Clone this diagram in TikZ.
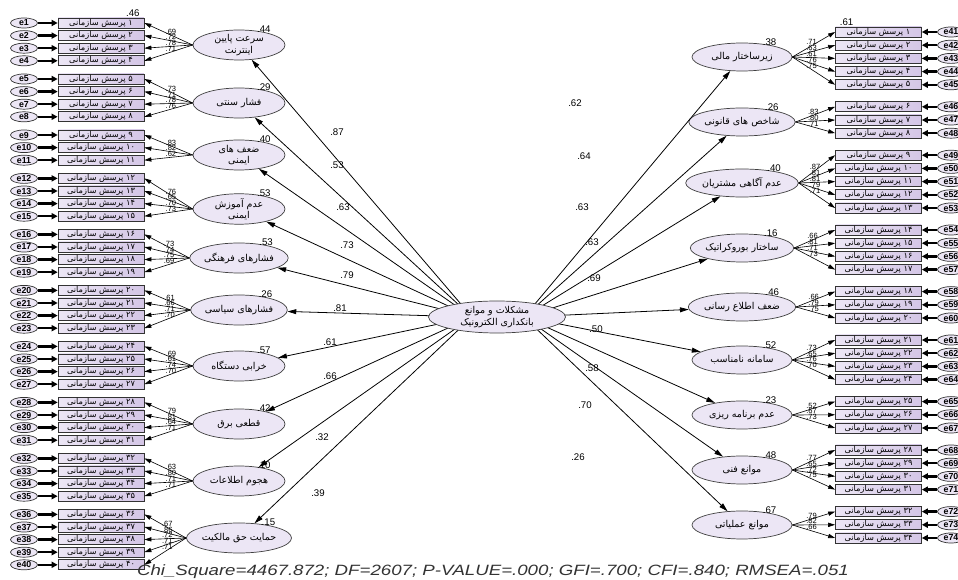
\documentclass[tikz,border=0pt]{standalone}
\usepackage{fontspec}
\setmainfont{Liberation Sans}
\newfontfamily\arabicfont[Script=Arabic]{DejaVu Sans}
\TeXXeTstate=1
\usetikzlibrary{arrows.meta,shapes.geometric}
\definecolor{lav}{RGB}{212,198,230}
\definecolor{lavlight}{RGB}{236,230,245}
\newcommand\fadig[1]{\ifcase#1 ۰\or ۱\or ۲\or ۳\or ۴\or ۵\or ۶\or ۷\or ۸\or ۹\fi}
\begin{document}
\begin{tikzpicture}[x=0.02cm,y=-0.02cm,
    lat/.style={ellipse,draw=black!75,fill=lavlight,inner sep=0pt,align=center,
      minimum width=1.84cm,minimum height=0.6cm,font=\arabicfont\fontsize{5.4}{6.4}\selectfont},
    rlat/.style={lat,minimum width=2cm,minimum height=0.56cm},
    obs/.style={rectangle,draw=black!80,left color=lavlight,right color=lav,inner sep=0pt,
      minimum width=1.72cm,minimum height=0.2cm,font=\arabicfont\fontsize{4.7}{4.8}\selectfont},
    err/.style={ellipse,draw=black!80,fill=lavlight,inner sep=0pt,
      minimum width=0.54cm,minimum height=0.2cm,font=\fontsize{5}{5}\selectfont\bfseries},
    errarr/.style={-{Triangle[length=3.5pt,width=3.5pt]},line width=1.3pt},
    ldarr/.style={-{Triangle[length=4pt,width=2.4pt]},line width=0.35pt},
    patharr/.style={-{Triangle[length=5pt,width=2.8pt]},line width=0.45pt},
    coef/.style={font=\fontsize{5.5}{6}\selectfont,inner sep=0.5pt},
    ldlab/.style={font=\fontsize{4.3}{4.5}\selectfont,inner sep=0.3pt}]
  \useasboundingbox (0,0) rectangle (958,580);
  \clip (0,0) rectangle (958,580);
  \coordinate (cl) at (472,317);
  \coordinate (cr) at (524,317);
  % left side
  \foreach \g/\fy/\first/\txt/\var/\loads in {
      1/45/1/{\beginR سرعت پایین\endR\\\beginR اینترنت\endR}/.44/{.69,.72,.78,.71},
      2/103/5/{\beginR فشار سنتی\endR}/.29/{.73,.71,.78,.76},
      3/155/9/{\beginR ضعف های\endR\\\beginR ایمنی\endR}/.40/{.83,.82,.62},
      4/209/12/{\beginR عدم آموزش\endR\\\beginR ایمنی\endR}/.53/{.76,.65,.70,.73},
      5/258/16/{\beginR فشارهای فرهنگی\endR}/.53/{.73,.74,.75,.69},
      6/310/20/{\beginR فشارهای سیاسی\endR}/.26/{.61,.66,.71,.70},
      7/366/24/{\beginR خرابی دستگاه\endR}/.57/{.69,.61,.74,.70},
      8/424/28/{\beginR قطعی برق\endR}/.42/{.79,.81,.64,.71},
      9/481/32/{\beginR هجوم اطلاعات\endR}/.10/{.63,.80,.71,.71},
      10/538/36/{\beginR حمایت حق مالکیت\endR}/.15/{.67,.86,.72,.71,.71}}{
    \node[lat] (f\g) at (239,\fy) {\txt};
    \node[coef,anchor=south east] (vl\g) at (f\g.north east) {\var};
    \foreach \l [count=\k] in \loads {
      \pgfmathtruncatemacro\i{\first+\k-1}
      \pgfmathsetmacro\ry{23+(\i-1)*12.6+(\g-1)*5.6}
      \pgfmathtruncatemacro\tens{\i/10}
      \pgfmathtruncatemacro\units{\i-10*\tens}
      \node[obs] (b\i) at (101,\ry) {\beginR\beginL\ifnum\tens>0 \fadig\tens\fi\fadig\units\endL{} پرسش سازمانی\endR};
      \node[err] (e\i) at (24,\ry) {e\i};
      \draw[errarr] (e\i) -- (b\i);
      \draw[ldarr] (f\g.west) -- node[ldlab,pos=0.45,above] (ll\i) {\l} (b\i.east);
    }
  }
  % right side
  \foreach \g/\fy/\first/\txt/\var/\loads in {
      1/57/1/{زیرساختار مالی}/.38/{.71,.63,.61,.76,.75},
      2/122/6/{شاخص های قانونی}/.26/{.83,.80,.71},
      3/183/9/{عدم آگاهی مشتریان}/.40/{.87,.81,.81,.79,.71},
      4/248/14/{ساختار بوروکراتیک}/.16/{.66,.81,.71,.73},
      5/307/18/{ضعف اطلاع رسانی}/.46/{.66,.79,.75},
      6/360/21/{سامانه نامناسب}/.52/{.73,.65,.76,.70},
      7/415/25/{عدم برنامه ریزی}/.23/{.52,.67,.73},
      8/470/28/{موانع فنی}/.48/{.77,.65,.72,.75},
      9/525/32/{موانع عملیاتی}/.67/{.79,.82,.66}}{
    \node[rlat] (r\g) at (742,\fy) {\beginR\txt\endR};
    \node[coef,anchor=south east] (vr\g) at (r\g.north east) {\var};
    \foreach \l [count=\k] in \loads {
      \pgfmathtruncatemacro\j{\first+\k-1}
      \pgfmathtruncatemacro\n{\j+40}
      \pgfmathsetmacro\ry{32+(\j-1)*13.2+(\g-1)*8.8}
      \pgfmathtruncatemacro\tens{\j/10}
      \pgfmathtruncatemacro\units{\j-10*\tens}
      \node[obs] (rb\j) at (878.5,\ry) {\beginR\beginL\ifnum\tens>0 \fadig\tens\fi\fadig\units\endL{} پرسش سازمانی\endR};
      \node[err] (re\j) at (951,\ry) {e\n};
      \draw[errarr] (re\j) -- (rb\j);
      \draw[ldarr] (r\g.east) -- node[ldlab,pos=0.45,above] (lr\j) {\l} (rb\j.west);
    }
  }
  \node[coef,anchor=south east] (sq1) at ([xshift=-2pt]b1.north east) {.46};
  \node[coef,anchor=south west] (sq41) at ([xshift=2pt]rb1.north west) {.61};
  % paths from the second order factor
  \foreach \g/\v/\x/\y in {1/.87/337/132,2/.53/337/165,3/.63/343/207,4/.73/347/245,5/.79/347/275,
      6/.81/340/308,7/.61/330/342,8/.66/330/376,9/.32/322/437,10/.39/318/493}{
    \draw[patharr] (cl) -- (f\g);
    \node[coef] (pl\g) at (\x,\y) {\v};
  }
  \foreach \g/\v/\x/\y in {1/.62/575/103,2/.64/584/156,3/.63/582/207,4/.63/592/242,5/.69/594/278,
      6/.50/596/329,7/.58/592/368,8/.70/585/405,9/.26/578/457}{
    \draw[patharr] (cr) -- (r\g);
    \node[coef] (pr\g) at (\x,\y) {\v};
  }
  \node[lat,minimum width=2.74cm,minimum height=0.64cm] (c) at (497,317)
    {\beginR مشکلات و موانع\endR\\\beginR بانکداری الکترونیک\endR};
  \node[font=\itshape\fontsize{8.5}{9}\selectfont,text=black!80,inner sep=0pt] (fit) at (493,572)
    {\scalebox{1.25}[1]{Chi\_Square=4467.872; DF=2607; P-VALUE=.000; GFI=.700; CFI=.840; RMSEA=.051}};
\end{tikzpicture}
\end{document}
